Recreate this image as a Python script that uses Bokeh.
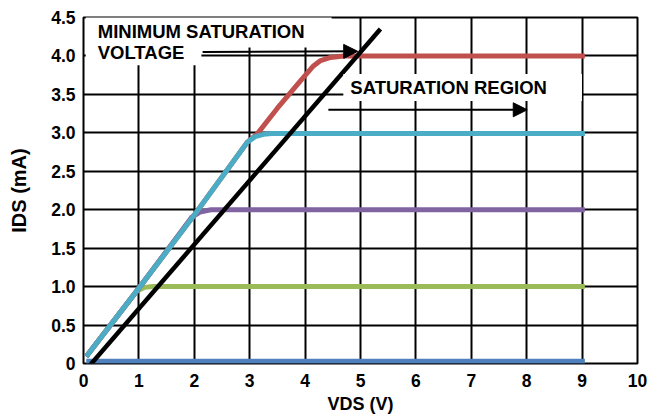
from bokeh.plotting import figure
from bokeh.models import Label, Arrow, NormalHead, FixedTicker
from bokeh.embed import file_html
from bokeh.resources import INLINE

# ---- data ----
vds_ticks = [0, 1, 2, 3, 4, 5, 6, 7, 8, 9, 10]
ids_ticks = [0, 0.5, 1.0, 1.5, 2.0, 2.5, 3.0, 3.5, 4.0, 4.5]
ids_tick_labels = ["0", "0.5", "1.0", "1.5", "2.0", "2.5", "3.0", "3.5", "4.0", "4.5"]

vds_0ma = [0.05, 9.05]
ids_0ma = [0.03, 0.03]

vds_1ma = [0.05, 0.96, 1.1, 1.25, 9.05]
ids_1ma = [0.09, 0.94, 0.99, 1.0, 1.0]

vds_2ma = [0.05, 1.0, 1.95, 2.1, 2.3, 9.05]
ids_2ma = [0.09, 0.98, 1.9, 1.97, 2.0, 2.0]

vds_3ma = [0.05, 1.0, 2.0, 2.96, 3.1, 3.25, 3.4, 9.05]
ids_3ma = [0.09, 0.98, 1.93, 2.88, 2.95, 2.98, 2.99, 2.99]

vds_4ma = [0.05, 1.0, 2.0, 2.96, 3.14, 3.5, 3.92, 4.15, 4.28, 4.46, 4.7, 9.05]
ids_4ma = [0.09, 0.98, 1.93, 2.88, 2.99, 3.32, 3.68, 3.87, 3.94, 3.98, 4.0, 4.0]

vds_minsat = [0.0, 5.36]
ids_minsat = [-0.12, 4.35]

series_colors = ["#4F81BD", "#9BBB59", "#8064A2", "#C0504D", "#4BACC6"]

# annotation anchor positions (data units)
label_min1 = ("MINIMUM SATURATION", 0.04, 4.31)
label_min2 = ("VOLTAGE", 0.04, 4.03)
label_sat = ("SATURATION REGION", 4.69, 3.59)
arrow_min = (2.15, 4.05, 4.95, 4.06)
arrow_sat = (4.42, 3.30, 8.01, 3.30)

FONT = "Liberation Sans"

p = figure(width=660, height=416, x_range=(0, 10), y_range=(0, 4.5),
           output_backend="svg", toolbar_location=None,
           min_border_left=83, min_border_right=23,
           min_border_top=17, min_border_bottom=52)
p.background_fill_color = "white"
p.border_fill_color = "white"
p.outline_line_color = "black"
p.outline_line_width = 2

# axes
p.xaxis.ticker = FixedTicker(ticks=vds_ticks)
p.yaxis.ticker = FixedTicker(ticks=ids_ticks)
p.yaxis.major_label_overrides = {t: s for t, s in zip(ids_ticks, ids_tick_labels)}
for ax in (p.xaxis, p.yaxis):
    ax.axis_line_color = None
    ax.major_tick_line_color = None
    ax.minor_tick_line_color = None
    ax.major_tick_out = 0
    ax.major_tick_in = 0
    ax.major_label_text_font = FONT
    ax.major_label_text_font_style = "bold"
    ax.major_label_text_font_size = "17.5px"
    ax.major_label_text_color = "black"
    ax.axis_label_text_font = FONT
    ax.axis_label_text_font_style = "bold"
    ax.axis_label_text_color = "black"
p.xaxis.axis_label = "VDS (V)"
p.yaxis.axis_label = "IDS (mA)"
p.xaxis.axis_label_text_font_size = "18px"
p.yaxis.axis_label_text_font_size = "20px"
p.xaxis.major_label_standoff = 10
p.yaxis.major_label_standoff = 8
p.xaxis.axis_label_standoff = 4
p.yaxis.axis_label_standoff = 18

# grid
p.xgrid.ticker = FixedTicker(ticks=vds_ticks)
p.ygrid.ticker = FixedTicker(ticks=ids_ticks)
for g in (p.xgrid, p.ygrid):
    g.grid_line_color = "black"
    g.grid_line_width = 2
    g.grid_line_alpha = 1.0

# curves
curves = [(vds_0ma, ids_0ma), (vds_1ma, ids_1ma), (vds_2ma, ids_2ma),
          (vds_4ma, ids_4ma), (vds_3ma, ids_3ma)]
colors = [series_colors[0], series_colors[1], series_colors[2],
          series_colors[3], series_colors[4]]
for (xs, ys), c in zip(curves, colors):
    p.line(xs, ys, line_color=c, line_width=5, line_join="round", line_cap="butt")

p.line(vds_minsat, ids_minsat, line_color="black", line_width=4.5, line_cap="butt")

# annotations with white boxes
def add_label(item, pad):
    text, x, y = item
    lab = Label(x=x, y=y, text=text, text_font=FONT, text_font_style="bold",
                text_font_size="18.5px", text_color="black",
                text_align="left", text_baseline="middle",
                background_fill_color="white", background_fill_alpha=1.0,
                padding=pad)
    p.add_layout(lab)

add_label(label_min1, dict(left=12, right=27, top=4, bottom=6))
add_label(label_min2, dict(left=12, right=17, top=0, bottom=2))
add_label(label_sat, dict(left=7, right=35, top=3, bottom=3))

for (xs, ys, xe, ye) in (arrow_min, arrow_sat):
    p.add_layout(Arrow(end=NormalHead(size=14, fill_color="black", line_color="black"),
                       x_start=xs, y_start=ys, x_end=xe, y_end=ye,
                       line_color="black", line_width=2))

open("out.html", "w").write(file_html(p, INLINE))
